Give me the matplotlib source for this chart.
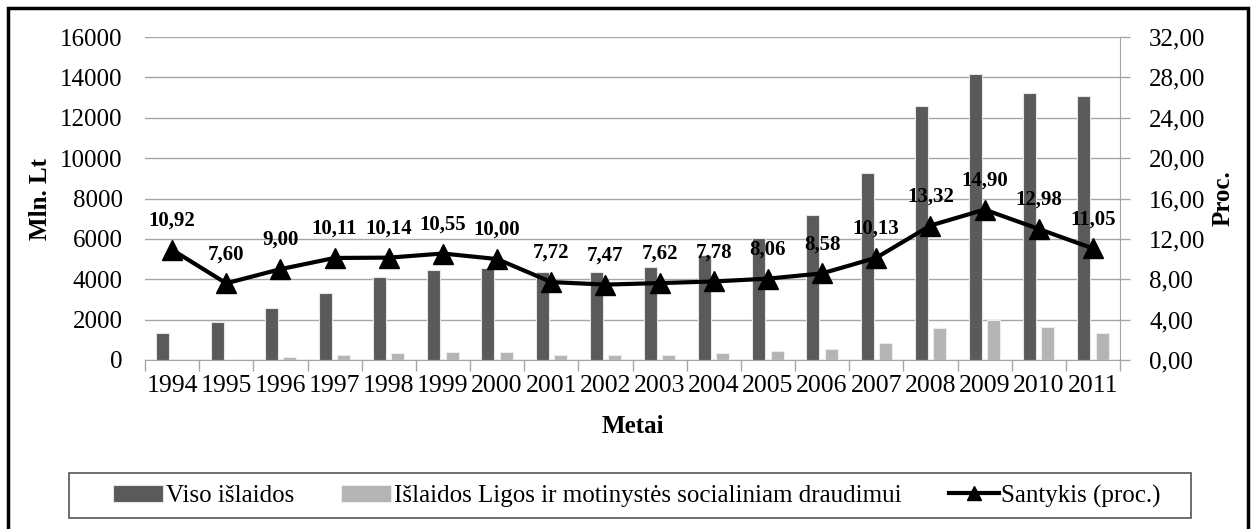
import numpy as np
import matplotlib.pyplot as plt
from matplotlib.patches import Rectangle
from matplotlib.lines import Line2D

plt.rcParams['font.family'] = ['Liberation Serif', 'DejaVu Serif']

years = ['1994', '1995', '1996', '1997', '1998', '1999', '2000', '2001', '2002',
         '2003', '2004', '2005', '2006', '2007', '2008', '2009', '2010', '2011']
viso = [1340, 1880, 2580, 3320, 4110, 4460, 4560, 4350, 4360,
        4600, 5200, 6040, 7180, 9260, 12580, 14170, 13230, 13080]
ligos = [50, 60, 150, 250, 350, 400, 400, 250, 250,
         250, 350, 450, 560, 840, 1590, 1980, 1630, 1340]
santykis = [10.92, 7.60, 9.00, 10.11, 10.14, 10.55, 10.00, 7.72, 7.47,
            7.62, 7.78, 8.06, 8.58, 10.13, 13.32, 14.90, 12.98, 11.05]

dark = '#5a5a5a'
light = '#b4b4b4'
grid = '#a6a6a6'

W, H = 1259, 529
fig = plt.figure(figsize=(W / 100, H / 100), dpi=100)
ax = fig.add_axes([145 / W, 1 - 360 / H, 975 / W, 323 / H])
x = np.arange(len(years))

b1 = ax.bar(x - 0.17, viso, width=0.24, color=dark, edgecolor='#e6e6e6', linewidth=0.8,
            label='Viso išlaidos', zorder=3)
b2 = ax.bar(x + 0.17, ligos, width=0.24, color=light, edgecolor='#ececec', linewidth=0.8,
            label='Išlaidos Ligos ir motinystės socialiniam draudimui', zorder=3)

ax.set_xlim(-0.5, len(years) - 0.5)
ax.set_ylim(0, 16000)
ax.set_yticks(np.arange(0, 16001, 2000))
ax.yaxis.grid(True, color=grid, linewidth=1, zorder=0)
ax.set_axisbelow(True)
for s in ['top', 'left', 'right']:
    ax.spines[s].set_visible(False)
ax.spines['bottom'].set_color(grid)
ax.set_xticks(x)
ax.set_xticklabels(years)
ax.set_xticks(np.arange(-0.5, len(years), 1), minor=True)
ax.tick_params(axis='x', which='major', length=0, pad=11, labelsize=18.5)
ax.tick_params(axis='x', which='minor', length=8, color=grid, width=1)
ax.tick_params(axis='y', length=0, pad=16, labelsize=18)
ax.set_ylabel('Mln. Lt', fontsize=18, fontweight='bold', labelpad=6)
ax.set_xlabel('Metai', fontsize=18, fontweight='bold', labelpad=13)

ax2 = ax.twinx()
ln, = ax2.plot(x, santykis, color='black', linewidth=3, marker='^', markersize=15,
               label='Santykis (proc.)', zorder=5)
ax2.set_ylim(0, 32)
ax2.set_yticks(np.arange(0, 32.1, 4))
ax2.set_yticklabels([f'{v:.2f}'.replace('.', ',') for v in np.arange(0, 32.1, 4)])
for s in ['top', 'left', 'bottom']:
    ax2.spines[s].set_visible(False)
ax2.spines['right'].set_color(grid)
ax2.tick_params(axis='y', length=7, color=grid, width=1, pad=14, labelsize=18)
ax2.set_ylabel('Proc.', fontsize=18, fontweight='bold', labelpad=4)

for xi, v in zip(x, santykis):
    ax2.annotate(f'{v:.2f}'.replace('.', ','), (xi, v), xytext=(0, 21),
                 textcoords='offset points', ha='center', va='center',
                 fontsize=15, fontweight='bold')

# smaller triangle in the legend than on the line
ln_leg = Line2D([], [], color='black', linewidth=3, marker='^', markersize=10)

# legend without its own frame, the box is drawn separately (wider padding)
fig.legend([b1, b2, ln_leg], [b1.get_label(), b2.get_label(), ln.get_label()],
           loc='center', bbox_to_anchor=(637 / W, 1 - 496 / H), ncol=3,
           fontsize=18, frameon=False,
           handlelength=2.0, handletextpad=0.1, columnspacing=1.9,
           borderpad=0.3, borderaxespad=0)
fig.patches.append(Rectangle((69 / W, 1 - 518 / H), 1122 / W, 45 / H,
                             transform=fig.transFigure, fill=False,
                             edgecolor='#555555', linewidth=1.2))

fig.patches.append(Rectangle((8 / W, -0.02), 1240 / W, 1 - 8 / H + 0.02,
                             transform=fig.transFigure, fill=False,
                             edgecolor='black', linewidth=2.5))

fig.savefig('out.png', dpi=100)
